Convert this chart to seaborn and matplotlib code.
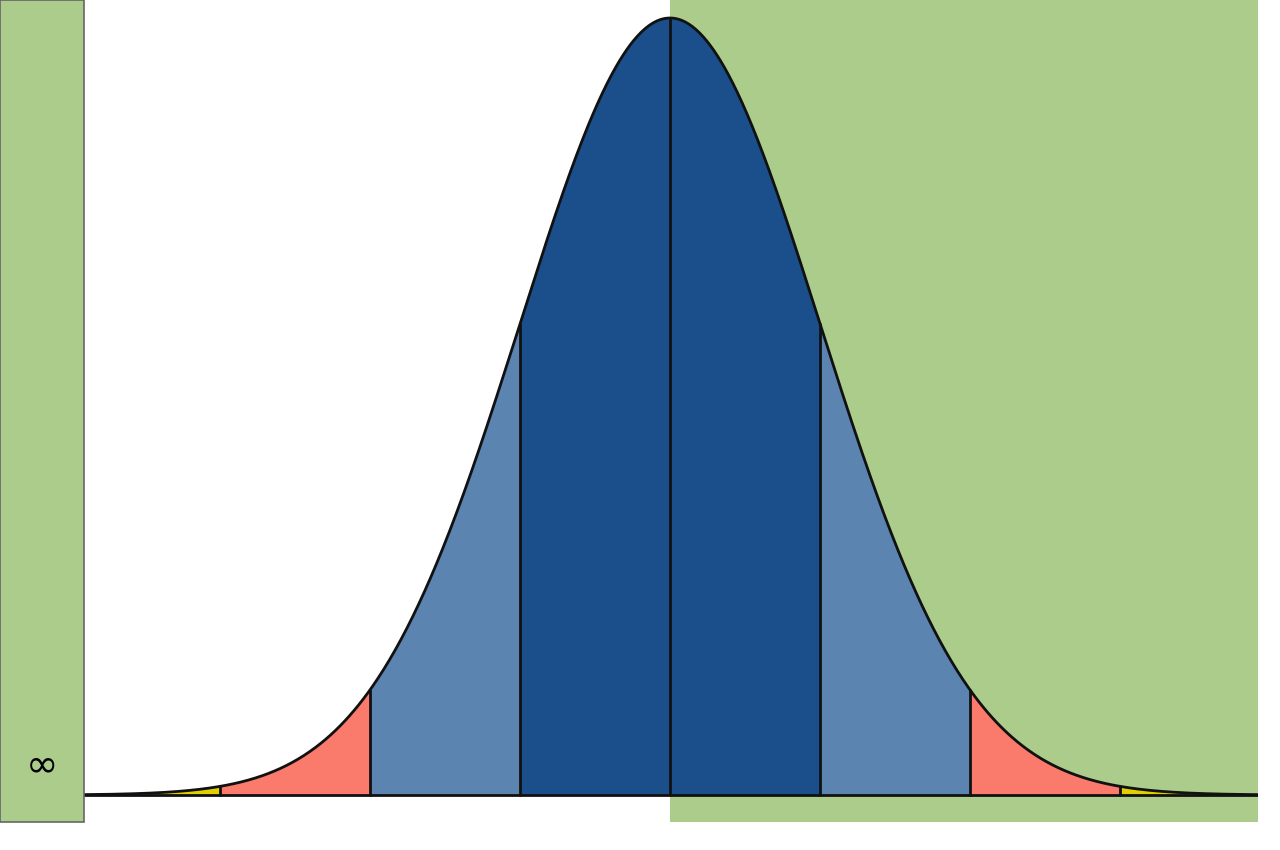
import numpy as np
import pandas as pd
import matplotlib
matplotlib.use("Agg")
import matplotlib.pyplot as plt
import seaborn as sns
from matplotlib.patches import Rectangle

sns.set_theme(style="white")
plt.rcParams['font.family'] = ['DejaVu Sans']

bands = [(-3.9, -3), (-3, -2), (-2, -1), (-1, 0), (0, 1), (1, 2), (2, 3), (3, 3.92)]
band_colors = ["#e0d000", "#fa7a6c", "#5b84b1", "#1a4f8c", "#1a4f8c", "#5b84b1", "#fa7a6c", "#e0d000"]
sigma_lines = [-3, -2, -1, 0, 1, 2, 3]

def pdf(x):
    return np.exp(-x**2 / 2) / np.sqrt(2 * np.pi)

W, H = 1280, 850
fig = plt.figure(figsize=(W/100, H/100), dpi=100)
ax = fig.add_axes([84/W, 0, 1174/W, 1])
peak = pdf(0)
ax.set_xlim(-3.907, 3.92)
ax.set_ylim(-(55/777)*peak, (795/777)*peak)
ax.axis("off")

# right green background
ax.add_patch(Rectangle((0, -(27/777)*peak), 3.92, 1, color="#abcc8a", zorder=0, lw=0))
# left green box
fig.patches.append(Rectangle((0, 28/H), 84/W, 1 - 28/H, transform=fig.transFigure,
                             facecolor="#abcc8a", edgecolor="#666666", lw=1.2))
fig.text(42/W, 1 - 765/H, "∞", ha="center", va="center", fontsize=28, color="black")

for (a, b), c in zip(bands, band_colors):
    xs = np.linspace(a, b, 200)
    ax.fill_between(xs, 0, pdf(xs), color=c, lw=0, zorder=1)

xs = np.linspace(-3.907, 3.92, 1000)
df = pd.DataFrame({"x": xs, "y": pdf(xs)})
sns.lineplot(data=df, x="x", y="y", ax=ax, color="#111111", lw=2, zorder=3)
for s in sigma_lines:
    ax.plot([s, s], [0, pdf(s)], color="#111111", lw=2, zorder=3)
ax.axhline(0, color="#111111", lw=2, zorder=3)

fig.savefig("out.png", dpi=100)
